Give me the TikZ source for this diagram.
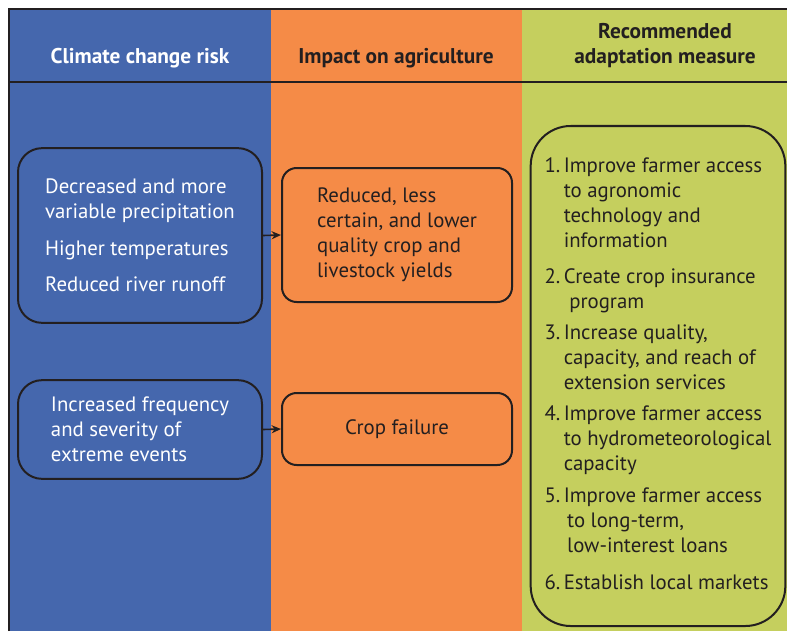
\documentclass[tikz,border=0pt]{standalone}
\usepackage{fontspec}
\setmainfont{PT Sans}
\usetikzlibrary{arrows.meta}
\definecolor{riskblue}{RGB}{69,103,173}
\definecolor{impactorange}{RGB}{245,139,71}
\definecolor{measuregreen}{RGB}{197,207,94}
\definecolor{inkdark}{RGB}{35,31,32}

\tikzset{
  bodytext/.style={font=\fontsize{15.6}{18.75}\selectfont},
  headtext/.style={font=\fontsize{16}{18.75}\selectfont\bfseries,align=center},
  riskbox/.style={draw=inkdark,line width=1.5pt,rounded corners=18pt,minimum width=183pt,text=white,align=left,bodytext},
  impactbox/.style={draw=inkdark,line width=1.5pt,rounded corners=11pt,minimum width=172.5pt,text=inkdark,align=left,bodytext},
  measurebox/.style={draw=inkdark,line width=1.5pt,rounded corners=30pt,minimum width=191pt,minimum height=375pt,text=inkdark,bodytext},
  linkarrow/.style={draw=inkdark,line width=1.2pt,-{Stealth[length=7pt,width=6pt]}}
}

\begin{document}
\begin{tikzpicture}[x=0.75pt,y=-0.75pt]
    \useasboundingbox (0,0) rectangle (787,631);

    % column backgrounds
    \fill[riskblue] (9,9) rectangle (271,631);
    \fill[impactorange] (271,9) rectangle (522,631);
    \fill[measuregreen] (522,9) rectangle (787,631);
    \draw[inkdark,line width=1.2pt] (9,631) -- (9,9) -- (787,9);
    \draw[inkdark,line width=1.2pt] (9,82) -- (787,82);

    % headers
    \node[headtext,text=white] (headrisk) at (140,58.5) {Climate change risk};
    \node[headtext,text=inkdark] (headimpact) at (396,58.5) {Impact on agriculture};
    \node[headtext,text=inkdark] (headmeasure) at (665,46) {Recommended\\adaptation measure};

    % climate change risks
    \node[riskbox,minimum height=131pt] (riskclimate) at (140,235.5) {
        Decreased and more\\variable precipitation\\[9pt]
        Higher temperatures\\[8pt]
        Reduced river runoff
    };
    \node[riskbox,minimum height=74pt] (riskextreme) at (140,429.5) {
        Increased frequency\\and severity of\\extreme events
    };

    % impacts
    \node[impactbox,minimum height=100.5pt] (impactyield) at (397,235) {
        \rule{0pt}{6pt}Reduced, less\\certain, and lower\\quality crop and\\livestock yields
    };
    \node[impactbox,minimum height=54pt] (impactfailure) at (397,429) {Crop failure};

    \draw[linkarrow] (riskclimate.east) -- (impactyield.west);
    \draw[linkarrow] (riskextreme.east) -- (impactfailure.west);

    % adaptation measures
    \node[measurebox] (measurelist) at (658,376) {
        \begin{tabular}{@{}r@{\,}l@{}}
            1. & Improve farmer access\\
               & to agronomic\\
               & technology and\\
               & information\\[8pt]
            2. & Create crop insurance\\
               & \ program\\[5pt]
            3. & Increase quality,\\
               & capacity, and reach of\\
               & extension services\\[4.5pt]
            4. & Improve farmer access\\
               & to hydrometeorological\\
               & capacity\\[5pt]
            5. & Improve farmer access\\
               & \,to long-term,\\
               & \,low-interest loans\\[9pt]
            6. & Establish local markets
        \end{tabular}
    };
\end{tikzpicture}
\end{document}
